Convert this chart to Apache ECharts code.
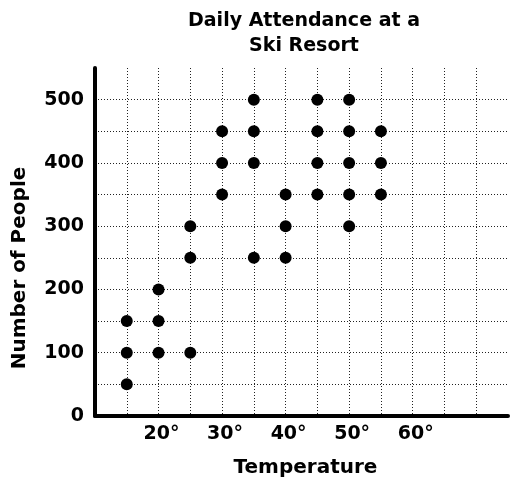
<!DOCTYPE html>
<html>
<head>
<meta charset="utf-8">
<script src="https://cdn.jsdelivr.net/npm/echarts@6/dist/echarts.min.js"></script>
<style>html,body{margin:0;padding:0;background:#fff}#c{width:511px;height:489px}</style>
</head>
<body>
<div id="c"></div>
<script>
// Data
const temperature = [15,15,15, 20,20,20, 25,25,25, 30,30,30, 35,35,35,35, 40,40,40, 45,45,45,45, 50,50,50,50,50, 55,55,55];
const people      = [50,100,150, 100,150,200, 100,250,300, 350,400,450, 250,400,450,500, 250,300,350, 350,400,450,500, 300,350,400,450,500, 350,400,450];
const xTickLabels = [20,30,40,50,60];
const yTickLabels = [0,100,200,300,400,500];

const FONT = '"DejaVu Sans", "Noto Sans", sans-serif';
const points = temperature.map((t, i) => [t, people[i]]);

const chart = echarts.init(document.getElementById('c'), null, {renderer: 'canvas'});
chart.setOption({
  animation: false,
  backgroundColor: '#fff',
  title: {
    text: 'Daily Attendance at a\nSki Resort',
    left: 304, top: 9, padding: 0,
    textAlign: 'center',
    textStyle: {fontFamily: FONT, fontWeight: 'bold', fontSize: 19, lineHeight: 25, color: '#000'}
  },
  grid: {left: 95, right: 0, top: 68, bottom: 73, containLabel: false},
  xAxis: {
    type: 'value', min: 10, max: 75, interval: 5,
    name: 'Temperature', nameLocation: 'middle', nameGap: 42,
    nameTextStyle: {fontFamily: FONT, fontWeight: 'bold', fontSize: 20, color: '#000', padding: [0, 0, 0, 8]},
    axisLine: {show: true, onZero: false, lineStyle: {color: '#000', width: 4}},
    axisTick: {show: false},
    axisLabel: {
      fontFamily: FONT, fontWeight: 'bold', fontSize: 19, color: '#000', margin: 9,
      padding: [0, 0, 0, 6],
      formatter: v => xTickLabels.includes(v) ? v + '°' : ''
    },
    splitLine: {show: true, showMinLine: false, showMaxLine: false,
      lineStyle: {color: '#222', width: 1, type: [1, 2]}}
  },
  yAxis: {
    type: 'value', min: 0, max: 550, interval: 50,
    axisLine: {show: true, onZero: false, lineStyle: {color: '#000', width: 4}},
    axisTick: {show: false},
    axisLabel: {
      fontFamily: FONT, fontWeight: 'bold', fontSize: 19, color: '#000', margin: 11,
      formatter: v => yTickLabels.includes(v) ? String(v) : ''
    },
    splitLine: {show: true, showMinLine: false, showMaxLine: false,
      lineStyle: {color: '#222', width: 1, type: [1, 2]}}
  },
  graphic: [{
    type: 'text', x: 20, y: 268, rotation: Math.PI / 2,
    style: {text: 'Number of People', fontFamily: FONT, fontWeight: 'bold', fontSize: 20,
      fill: '#000', align: 'center', verticalAlign: 'middle'}
  }],
  series: [{
    type: 'scatter', data: points, symbol: 'circle', symbolSize: 12,
    itemStyle: {color: '#000', opacity: 1}
  }]
});
</script>
</body>
</html>
